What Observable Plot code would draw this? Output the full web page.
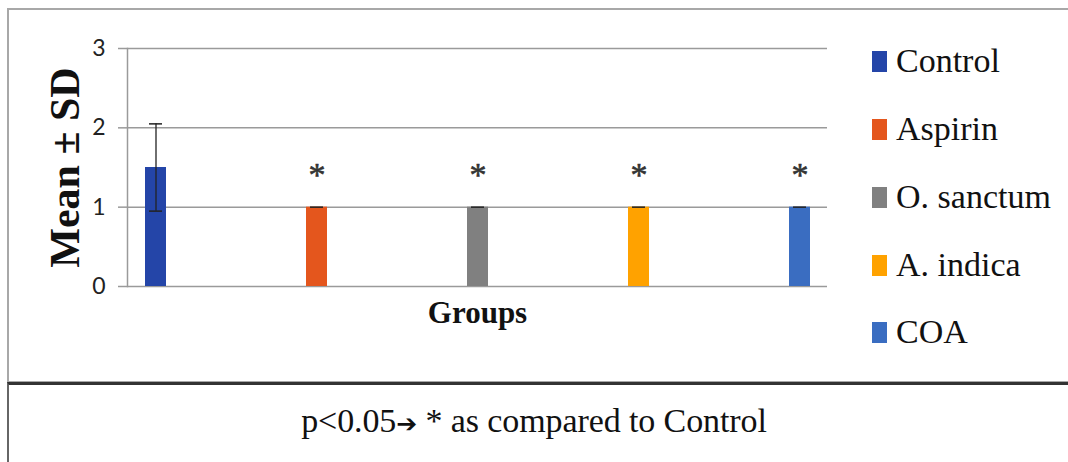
<!DOCTYPE html>
<html><head><meta charset="utf-8">
<script src="https://cdn.jsdelivr.net/npm/d3@7"></script>
<script src="https://cdn.jsdelivr.net/npm/@observablehq/plot@0.6"></script>
<style>
body{margin:0;background:#fff;}
#wrap{position:relative;width:1068px;height:462px;overflow:hidden;background:#fff;}
#box{position:absolute;left:7px;top:8px;width:1080px;height:375px;border:2px solid #a8a8a8;box-sizing:border-box;}
#foot{position:absolute;left:7px;top:382px;width:1080px;height:100px;border-top:3px solid #333;border-left:2px solid #666;box-sizing:border-box;}
#foottext{position:absolute;left:0;width:1068px;top:402px;text-align:center;font-family:'Liberation Serif',serif;font-size:34px;color:#111;letter-spacing:-0.1px;}
#foottext .arr{font-family:'DejaVu Sans',sans-serif;font-size:25px;font-weight:bold;}
#chart{position:absolute;left:0;top:0;}
#legend{position:absolute;left:872px;top:0;}
</style></head>
<body>
<div id="wrap">
  <div id="box"></div>
  <div id="foot"></div>
  <div id="foottext">p&lt;0.05<span class="arr">➔</span> * as compared to Control</div>
  <div id="chart"></div>
  <div id="legend"></div>
</div>
<script>
const groups = ["Control", "Aspirin", "O. sanctum", "A. indica", "COA"];
const means = [1.5, 1, 1, 1, 1];
const sds = [0.55, 0, 0, 0, 0];
const significant = [false, true, true, true, true];
const colors = ["#2445a8", "#e4561d", "#808080", "#ffa200", "#3a6dc1"];
const yTicks = [0, 1, 2, 3];
const yLabel = "Mean ± SD";
const xLabel = "Groups";

const data = groups.map((g, i) => ({group: g, mean: means[i], sd: sds[i], sig: significant[i]}));
const serif = "Liberation Serif, serif";

const chart = Plot.plot({
  width: 840,
  height: 380,
  marginLeft: 127,
  marginRight: 13,
  marginTop: 48,
  marginBottom: 94,
  style: {fontFamily: "Lato, sans-serif", fontSize: "22px", background: "transparent", overflow: "visible"},
  x: {domain: groups, paddingInner: 0.87, paddingOuter: 0.099, axis: null},
  y: {domain: [0, 3], axis: null},
  color: {domain: groups, range: colors},
  marks: [
    Plot.ruleY(yTicks, {stroke: "#9a9a9a", strokeWidth: 1.5}),
    Plot.frame({anchor: "left", stroke: "#9a9a9a", strokeWidth: 1.5}),
    Plot.axisY({ticks: yTicks, tickFormat: d3.format("d"), tickSize: 9, tickPadding: 13, stroke: "#9a9a9a", strokeWidth: 1.5, fill: "#222", fontSize: 23, label: null}),
    Plot.barY(data, {x: "group", y: "mean", fill: "group"}),
    Plot.ruleX(data.filter(d => d.sd > 0), {x: "group", y1: d => d.mean - d.sd, y2: d => d.mean + d.sd, stroke: "#222", strokeWidth: 1.3}),
    Plot.tickY(data, {x: "group", y: d => d.mean + d.sd, stroke: "#222", strokeWidth: 1.5, inset: 4}),
    Plot.tickY(data.filter(d => d.sd > 0), {x: "group", y: d => d.mean - d.sd, stroke: "#222", strokeWidth: 1.5, inset: 4}),
    Plot.text(data.filter(d => d.sig), {x: "group", y: d => d.mean + d.sd, text: () => "*", dy: -32, fontSize: 34, fontFamily: serif, fill: "#333", stroke: "#333", strokeWidth: 0.6}),
    Plot.text([yLabel], {frameAnchor: "left", textAnchor: "middle", rotate: -90, dx: -62, fontSize: 42, fontWeight: "bold", fontFamily: serif, fill: "#111"}),
    Plot.text([xLabel], {frameAnchor: "bottom", dy: 36, fontSize: 31, fontWeight: "bold", fontFamily: serif, fill: "#111"})
  ]
});
document.getElementById("chart").appendChild(chart);

const legend = document.getElementById("legend");
const centers = [61, 129, 197, 265, 332];
groups.forEach((g, i) => {
  const item = document.createElement("div");
  Object.assign(item.style, {
    position: "absolute", left: "0px", top: (centers[i] - 20) + "px", height: "40px",
    display: "flex", alignItems: "center", whiteSpace: "nowrap",
    fontFamily: "'Liberation Serif', serif", fontSize: "34px", color: "#111"
  });
  const sw = document.createElement("span");
  Object.assign(sw.style, {display: "inline-block", width: "15px", height: "21px", marginRight: "9px", background: colors[i]});
  const label = document.createElement("span");
  label.textContent = g;
  item.appendChild(sw);
  item.appendChild(label);
  legend.appendChild(item);
});
</script>
</body></html>
